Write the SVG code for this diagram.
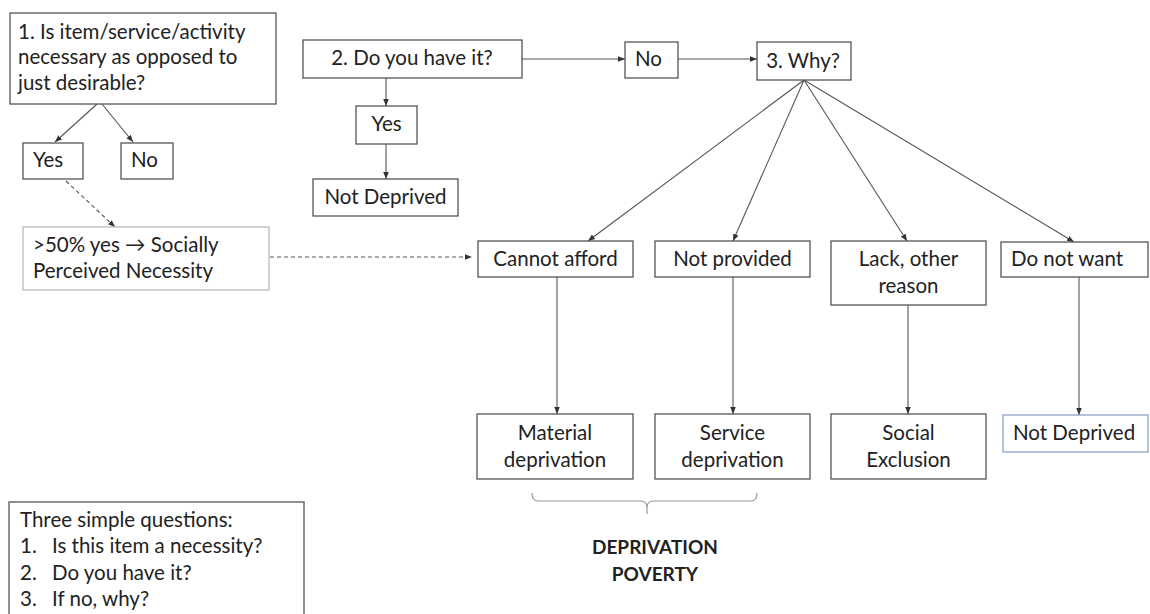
<svg xmlns="http://www.w3.org/2000/svg" width="1150" height="614" viewBox="0 0 1150 614">
<defs>
<marker id="ah" viewBox="0 0 10 10" refX="10" refY="5" markerWidth="7" markerHeight="7" markerUnits="userSpaceOnUse" orient="auto">
<path d="M0,1 L10,5 L0,9 z" fill="#333"/>
</marker>
</defs>
<style>
text{font-family:Lato,"Liberation Sans",sans-serif;font-size:20.5px;fill:#222}
.c{text-anchor:middle}
.b{font-weight:bold;font-size:19px}
.box{fill:#fff;stroke:#555;stroke-width:1.3}
.lt{fill:#fff;stroke:#bbb;stroke-width:1.3}
.bl{fill:#fff;stroke:#8aa2c8;stroke-width:1.3}
.ln{fill:none;stroke:#555;stroke-width:1.1}
.ar{fill:none;stroke:#555;stroke-width:1.1;marker-end:url(#ah)}
.da{fill:none;stroke:#555;stroke-width:1.1;stroke-dasharray:4 3;marker-end:url(#ah)}
</style>
<rect width="1150" height="614" fill="#fff"/>
<g id="connectors">
<path class="ar" d="M97,104 L55,142"/>
<path class="ar" d="M102,104 L133,142"/>
<path class="da" d="M66,181 L115,227"/>
<path class="da" d="M270,257 L472,257"/>
<path class="ar" d="M522,59 L625,59"/>
<path class="ar" d="M678,59 L757,59"/>
<path class="ar" d="M386,78 L386,106"/>
<path class="ar" d="M386,144 L386,179"/>
<path class="ar" d="M804,80 L588,241"/>
<path class="ar" d="M804,80 L733,241"/>
<path class="ar" d="M804,80 L907,241"/>
<path class="ar" d="M804,80 L1074,242"/>
<path class="ar" d="M557,277 L557,414"/>
<path class="ar" d="M733,277 L733,414"/>
<path class="ar" d="M908,305 L908,414"/>
<path class="ar" d="M1079,277 L1079,415"/>
<path fill="none" stroke="#999" stroke-width="1.2" d="M532,493 Q532,501 538,501 L641,501 Q647,501 647,508 L647,514 M647,508 Q647,501 653,501 L751,501 Q757,501 757,493"/>
</g>
<g id="q1">
<rect class="box" x="10" y="13" width="266" height="91"/>
<text x="18" y="39">1. Is item/service/activity</text>
<text x="18" y="64">necessary as opposed to</text>
<text x="18" y="90">just desirable?</text>
</g>
<g id="yes1">
<rect class="box" x="23" y="143" width="60" height="36"/>
<text x="33" y="167">Yes</text>
</g>
<g id="no1">
<rect class="box" x="121" y="143" width="52" height="36"/>
<text x="131" y="167">No</text>
</g>
<g id="spn">
<rect class="lt" x="23" y="227" width="246" height="63"/>
<text x="33" y="252">&gt;50% yes → Socially</text>
<text x="33" y="278">Perceived Necessity</text>
</g>
<g id="q2">
<rect class="box" x="303" y="40" width="219" height="38"/>
<text class="c" x="412" y="65">2. Do you have it?</text>
</g>
<g id="yes2">
<rect class="box" x="356" y="106" width="61" height="38"/>
<text class="c" x="386.5" y="131">Yes</text>
</g>
<g id="notdep1">
<rect class="box" x="313" y="179" width="145" height="37"/>
<text class="c" x="385.5" y="204">Not Deprived</text>
</g>
<g id="no2">
<rect class="box" x="625" y="42" width="53" height="36"/>
<text x="635" y="66">No</text>
</g>
<g id="q3">
<rect class="box" x="757" y="42" width="94" height="38"/>
<text class="c" x="803" y="68">3. Why?</text>
</g>
<g id="cannot">
<rect class="box" x="478" y="241" width="155" height="36"/>
<text class="c" x="555.5" y="266">Cannot afford</text>
</g>
<g id="notprov">
<rect class="box" x="655" y="241" width="155" height="36"/>
<text class="c" x="732.5" y="266">Not provided</text>
</g>
<g id="lack">
<rect class="box" x="831" y="241" width="155" height="64"/>
<text class="c" x="908.5" y="266">Lack, other</text>
<text class="c" x="908.5" y="293">reason</text>
</g>
<g id="donot">
<rect class="box" x="1001" y="242" width="147" height="35"/>
<text x="1011" y="266">Do not want</text>
</g>
<g id="material">
<rect class="box" x="477" y="414" width="156" height="65"/>
<text class="c" x="555" y="440">Material</text>
<text class="c" x="555" y="467">deprivation</text>
</g>
<g id="service">
<rect class="box" x="655" y="414" width="155" height="65"/>
<text class="c" x="732.5" y="440">Service</text>
<text class="c" x="732.5" y="467">deprivation</text>
</g>
<g id="social">
<rect class="box" x="831" y="414" width="155" height="65"/>
<text class="c" x="908.5" y="440">Social</text>
<text class="c" x="908.5" y="467">Exclusion</text>
</g>
<g id="notdep2">
<rect class="bl" x="1003" y="415" width="145" height="37"/>
<text x="1013" y="440">Not Deprived</text>
</g>
<g id="poverty">
<text class="c b" x="655" y="554">DEPRIVATION</text>
<text class="c b" x="655" y="581">POVERTY</text>
</g>
<g id="legend">
<rect class="box" x="9" y="502" width="295" height="120"/>
<text x="20" y="527">Three simple questions:</text>
<text x="20" y="553">1.</text><text x="52" y="553">Is this item a necessity?</text>
<text x="20" y="580">2.</text><text x="52" y="580">Do you have it?</text>
<text x="20" y="606">3.</text><text x="52" y="606">If no, why?</text>
</g>
</svg>
